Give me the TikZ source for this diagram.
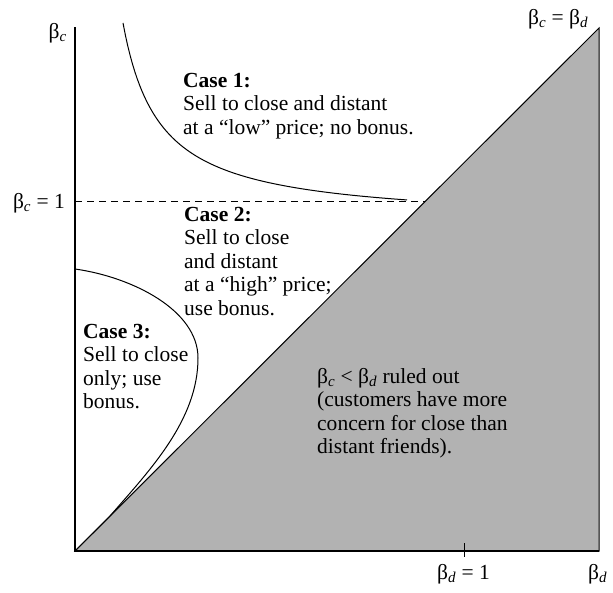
\documentclass[tikz,border=0pt]{standalone}
\usepackage{fontspec}
\setmainfont{Liberation Serif}
\newcommand{\bsub}[1]{β\textsubscript{\itshape #1}}
\newcommand{\textlines}[1]{\begin{tabular}[t]{@{}l@{}}#1\end{tabular}}
\begin{document}
\begin{tikzpicture}[x=1pt,y=-1pt,
  txt/.style={inner sep=0pt,anchor=base west,font=\fontsize{21.5}{23.5}\selectfont},
  txtr/.style={txt,anchor=base east},
  axisline/.style={line width=1.1pt},
  curve/.style={line width=1pt},
  shade/.style={fill=black!30,draw=black,line width=1pt}]
\useasboundingbox (0,0) rectangle (613,592);
\coordinate (O) at (75,551);
\coordinate (Ytop) at (75,27);
\coordinate (Xend) at (599,551);
\coordinate (Dend) at (599,28);
\coordinate (DashS) at (75,201);
\coordinate (DashE) at (425,201);
\coordinate (TickT) at (464,543);
\coordinate (TickB) at (464,557);
\coordinate (C3a) at (75,269);
\coordinate (C3b) at (198,358);
\coordinate (C3c) at (110,516);
% shaded region
\filldraw[shade] (O) -- (Xend) -- (Dend) -- cycle;
% axes
\draw[axisline] (Ytop) -- (O) -- (Xend);
\draw[line width=1pt] (TickT) -- (TickB);
% dashed line beta_c = 1
\draw[line width=0.9pt,dash pattern=on 7pt off 5pt] (DashS) -- (DashE);
% case 1 boundary
\draw[curve] plot[domain=123:407,samples=120] (\x,{222.8-7334/(\x-86.3)});
% case 3 boundary
\draw[curve] (C3a) .. controls (132,277) and (198,310) .. (C3b)
  .. controls (198,420) and (150,470) .. (C3c) -- (O);
% labels
\node[txtr] (lbc) at (67,38) {\bsub{c}};
\node[txtr] (lbc1) at (65,208) {\bsub{c} = 1};
\node[txt] (lbcd) at (528,24) {\bsub{c} = \bsub{d}};
\node[txt] (lbd1) at (437,579) {\bsub{d} = 1};
\node[txt] (lbd) at (588,579) {\bsub{d}};
% case texts
\node[txt] (case1) at (183,87) {\textlines{\textbf{Case 1:}\\Sell to close and distant\\at a “low” price; no bonus.}};
\node[txt] (case2) at (184,221) {\textlines{\textbf{Case 2:}\\Sell to close\\and distant\\at a “high” price;\\use bonus.}};
\node[txt] (case3) at (83,338) {\textlines{\textbf{Case 3:}\\Sell to close\\only; use\\bonus.}};
\node[txt] (ruled) at (317,383) {\textlines{\bsub{c} < \bsub{d} ruled out\\(customers have more\\concern for close than\\distant friends).}};
\end{tikzpicture}
\end{document}
